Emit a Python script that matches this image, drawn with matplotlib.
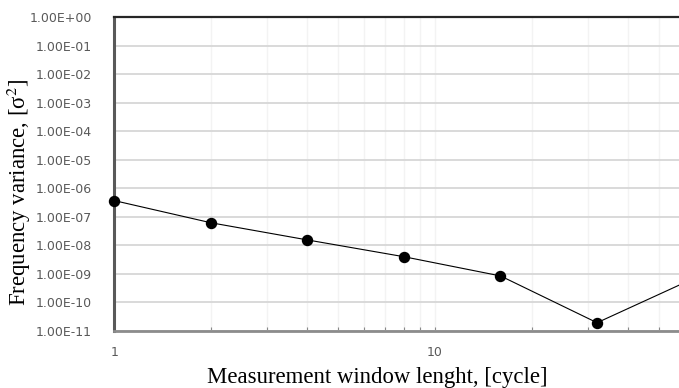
import numpy as np
import matplotlib
matplotlib.use("Agg")
import matplotlib.pyplot as plt
from matplotlib.ticker import LogLocator, FuncFormatter, NullFormatter

# data
window_cycles = [1, 2, 4, 8, 16, 32, 64]
freq_variance = [3.7e-7, 6.2e-8, 1.55e-8, 4.0e-9, 8.5e-10, 1.95e-11, 6.9e-10]

plt.rcParams['mathtext.fontset'] = 'stix'

fig = plt.figure(figsize=(6.79, 3.88), dpi=100)
# right edge of the axes runs past the figure, like the cropped original
ax = fig.add_axes([0.1683, 0.1469, 0.8532, 0.8093])

ax.plot(window_cycles, freq_variance, color='black', lw=0.8,
        marker='o', markersize=7.2, zorder=3, clip_on=False)

ax.set_xscale('log')
ax.set_yscale('log')
ax.set_xlim(1, 64)
ax.set_ylim(1e-11, 1)

ax.yaxis.set_major_locator(LogLocator(base=10, numticks=20))
ax.yaxis.set_minor_locator(LogLocator(base=10, subs=[], numticks=20))
ax.yaxis.set_major_formatter(FuncFormatter(lambda v, p: f"{v:.2E}"))

ax.xaxis.set_major_locator(LogLocator(base=10, numticks=10))
ax.xaxis.set_minor_locator(LogLocator(base=10, subs=np.arange(2, 10), numticks=10))
ax.xaxis.set_major_formatter(FuncFormatter(lambda v, p: f"{v:g}"))
ax.xaxis.set_minor_formatter(NullFormatter())

ax.grid(axis='y', which='major', color='#d9d9d9', lw=1.4)
ax.grid(axis='x', which='both', color='#f3f3f3', lw=1.0)
ax.set_axisbelow(True)

ax.tick_params(axis='y', which='both', length=0, pad=16, labelsize=9.0,
               labelcolor='#595959')
ax.tick_params(axis='x', which='both', direction='in', length=3, width=0.8,
               color='#898989', labelsize=9.0, labelcolor='#595959', pad=11)
for lab in ax.get_xticklabels() + ax.get_yticklabels():
    lab.set_family('DejaVu Sans')

ax.spines['left'].set_color('#595959')
ax.spines['left'].set_linewidth(2.2)
ax.spines['bottom'].set_color('#8c8c8c')
ax.spines['bottom'].set_linewidth(2.0)
ax.spines['top'].set_color('#262626')
ax.spines['top'].set_linewidth(1.6)
ax.spines['right'].set_visible(False)

ax.set_xlabel('Measurement window lenght, [cycle]', family='Liberation Serif',
              fontsize=16.4, color='black', va='center')
ax.set_ylabel('Frequency variance, [σ$^2$]', family='Liberation Serif',
              fontsize=16.4, color='black', va='center')
ax.xaxis.set_label_coords((377.5 - 114.3) / 579.3, (331 - 377) / 314)
ax.yaxis.set_label_coords((19 - 114.3) / 579.3, (331 - 192) / 314)

fig.savefig('out.png', dpi=100)
